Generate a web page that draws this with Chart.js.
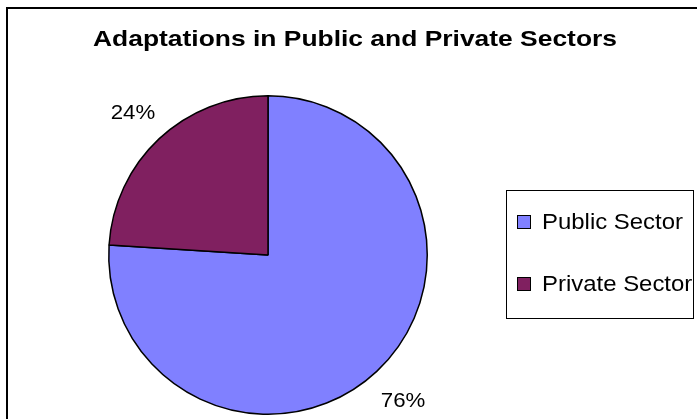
<!DOCTYPE html>
<html>
<head>
<meta charset="utf-8">
<script src="https://cdn.jsdelivr.net/npm/chart.js@4/dist/chart.umd.min.js"></script>
<style>
  html, body { margin: 0; padding: 0; background: #fff; }
  #wrap { width: 697px; height: 419px; position: relative; }
</style>
</head>
<body>
<div id="wrap"><canvas id="pie"></canvas></div>
<script>
const titleText = "Adaptations in Public and Private Sectors";
const sectors = ["Public Sector", "Private Sector"];
const shares = [76, 24];
const sliceColors = ["#8080FF", "#802060"];

const FONT = "'Liberation Sans', Arial, sans-serif";

// draws text widened horizontally by sx around its anchor
function wideText(c, text, x, y, sx, align) {
  const w = c.measureText(text).width * sx;
  let left = x;
  if (align === "center") left = x - w / 2;
  c.save();
  c.textAlign = "left";
  c.translate(left, y);
  c.scale(sx, 1);
  c.fillText(text, 0, 0);
  c.restore();
}

// frame, title, legend box and percentage labels
const decorations = {
  id: "decorations",
  beforeDraw(chart) {
    const c = chart.ctx;
    c.save();
    c.fillStyle = "#fff";
    c.fillRect(0, 0, chart.width, chart.height);
    c.strokeStyle = "#000";
    c.lineWidth = 2;
    c.strokeRect(7, 8, 800, 600);
    c.restore();
  },
  afterDraw(chart) {
    const c = chart.ctx;
    c.save();
    c.fillStyle = "#000";
    c.textBaseline = "alphabetic";

    // title, fitted to the width of the header
    c.font = "bold 22px " + FONT;
    const tsx = 524 / c.measureText(titleText).width;
    wideText(c, titleText, 355, 46, tsx, "center");

    // legend
    c.strokeStyle = "#000";
    c.lineWidth = 1;
    c.strokeRect(506.5, 190.5, 187, 128);
    const rows = [222, 284];
    c.font = "22px " + FONT;
    const lsx = 141 / c.measureText(sectors[0]).width;
    sectors.forEach((name, i) => {
      c.fillStyle = sliceColors[i];
      c.fillRect(517.5, rows[i] - 6.5, 13, 13);
      c.strokeRect(517.5, rows[i] - 6.5, 13, 13);
      c.fillStyle = "#000";
      wideText(c, name, 542, rows[i] + 7, lsx, "left");
    });

    // percentage labels outside each slice
    const meta = chart.getDatasetMeta(0);
    c.font = "21px " + FONT;
    meta.data.forEach((arc, i) => {
      const mid = (arc.startAngle + arc.endAngle) / 2;
      const r = arc.outerRadius + 38;
      const x = arc.x + Math.cos(mid) * r;
      const y = arc.y + Math.sin(mid) * r;
      wideText(c, shares[i] + "%", x, y + 8, 1.06, "center");
    });
    c.restore();
  }
};

new Chart(document.getElementById("pie"), {
  type: "pie",
  data: {
    labels: sectors,
    datasets: [{
      data: shares,
      backgroundColor: sliceColors,
      borderColor: "#000",
      borderWidth: 1.5,
      borderAlign: "center"
    }]
  },
  options: {
    responsive: true,
    maintainAspectRatio: false,
    animation: false,
    layout: { padding: { left: 108, right: 269, top: 95, bottom: 4 } },
    plugins: {
      legend: { display: false },
      title: { display: false },
      tooltip: { enabled: false }
    }
  },
  plugins: [decorations]
});
</script>
</body>
</html>
